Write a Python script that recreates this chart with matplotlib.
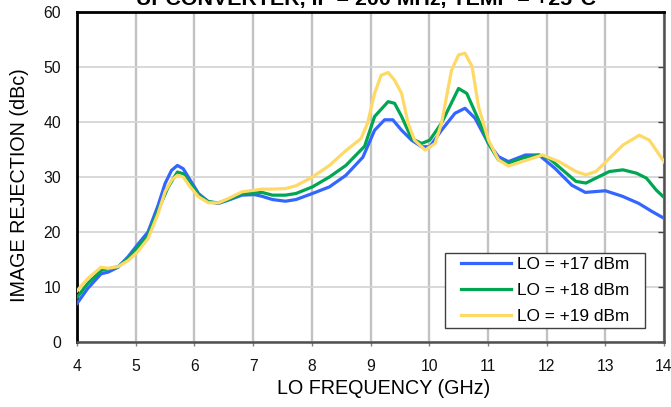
import matplotlib
matplotlib.use("Agg")
import matplotlib.pyplot as plt
from matplotlib.patches import Rectangle

plt.rcParams['font.family'] = ['Liberation Sans', 'DejaVu Sans']

# LO frequency (GHz) and image rejection (dBc) per LO drive level
freq_17 = [4.00, 4.18, 4.41, 4.53, 4.70, 4.87, 5.04, 5.21, 5.38, 5.50, 5.61, 5.71, 5.81, 5.93,
           6.07, 6.24, 6.41, 6.58, 6.81, 7.02, 7.15, 7.33, 7.55, 7.73, 8.01, 8.30, 8.58, 8.87,
           9.07, 9.24, 9.38, 9.53, 9.70, 9.87, 10.01, 10.21, 10.44, 10.61, 10.78, 11.01, 11.18,
           11.35, 11.64, 11.87, 12.14, 12.43, 12.66, 13.00, 13.29, 13.57, 13.80, 14.00]
rej_17 = [7.0, 9.7, 12.4, 12.7, 13.6, 15.5, 17.8, 20.0, 24.8, 28.8, 31.2, 32.1, 31.5, 29.4,
          27.0, 25.5, 25.2, 25.8, 26.7, 26.8, 26.5, 25.9, 25.6, 25.9, 27.0, 28.2, 30.3, 33.6,
          38.5, 40.4, 40.4, 38.5, 36.7, 35.5, 35.5, 38.5, 41.6, 42.5, 40.7, 36.1, 33.7,
          32.8, 34.0, 34.0, 31.6, 28.5, 27.2, 27.5, 26.5, 25.2, 23.7, 22.5]

freq_18 = [4.00, 4.18, 4.41, 4.53, 4.70, 4.87, 5.04, 5.21, 5.38, 5.55, 5.71, 5.81, 5.93,
           6.07, 6.24, 6.41, 6.58, 6.81, 7.02, 7.15, 7.33, 7.55, 7.73, 8.01, 8.30, 8.58, 8.90,
           9.07, 9.30, 9.41, 9.53, 9.70, 9.87, 10.01, 10.21, 10.50, 10.64, 10.84, 11.01, 11.18,
           11.35, 11.58, 11.87, 12.04, 12.27, 12.50, 12.67, 12.84, 13.07, 13.30, 13.53, 13.70,
           13.87, 14.00]
rej_18 = [8.1, 10.6, 13.0, 13.3, 13.7, 15.2, 17.3, 19.4, 23.9, 28.1, 30.9, 30.6, 28.8,
          26.7, 25.5, 25.3, 25.9, 27.0, 27.1, 27.2, 26.7, 26.7, 27.0, 28.2, 30.0, 32.1, 35.6,
          41.0, 43.7, 43.4, 41.0, 37.0, 36.1, 36.7, 39.8, 46.1, 45.2, 40.4, 36.1, 33.1,
          32.5, 33.4, 34.0, 33.4, 31.3, 29.2, 28.9, 29.8, 31.0, 31.3, 30.7, 29.8,
          27.6, 26.3]

freq_19 = [4.00, 4.18, 4.41, 4.53, 4.70, 4.87, 5.04, 5.21, 5.38, 5.50, 5.61, 5.71, 5.81, 5.93,
           6.07, 6.24, 6.41, 6.58, 6.81, 7.02, 7.15, 7.33, 7.55, 7.73, 8.01, 8.30, 8.58, 8.84,
           8.95, 9.07, 9.18, 9.30, 9.41, 9.53, 9.64, 9.75, 9.93, 10.10, 10.21, 10.38, 10.50,
           10.61, 10.73, 10.84, 11.01, 11.18, 11.35, 11.58, 11.93, 12.21, 12.50, 12.67, 12.84,
           13.07, 13.30, 13.58, 13.75, 14.00]
rej_19 = [9.3, 11.5, 13.6, 13.4, 13.7, 14.8, 16.5, 18.8, 23.3, 27.3, 29.4, 30.3, 30.0, 28.2,
          26.4, 25.3, 25.3, 26.1, 27.3, 27.6, 27.8, 27.8, 27.9, 28.4, 30.0, 32.1, 34.8, 37.0,
          39.8, 45.2, 48.5, 49.0, 47.6, 45.2, 39.8, 36.7, 34.9, 36.1, 39.8, 49.4, 52.2,
          52.5, 50.1, 42.8, 36.7, 33.1, 32.0, 32.8, 34.0, 32.8, 31.0, 30.4, 31.0,
          33.4, 35.8, 37.6, 36.7, 32.8]

series_labels = ['LO = +17 dBm', 'LO = +18 dBm', 'LO = +19 dBm']
series_colors = ['#3366ff', '#00a651', '#ffd966']
x_ticks = [4, 5, 6, 7, 8, 9, 10, 11, 12, 13, 14]
y_ticks = [0, 10, 20, 30, 40, 50, 60]

fig = plt.figure(figsize=(6.71, 4.07), dpi=100)
ax = fig.add_axes([77 / 671, 1 - 342 / 407, 587 / 671, 330 / 407])

for fx, ry, lab, col in zip([freq_17, freq_18, freq_19], [rej_17, rej_18, rej_19],
                            series_labels, series_colors):
    ax.plot(fx, ry, color=col, lw=2.3, label=lab, solid_joinstyle='round', zorder=3)

ax.set_xlim(4, 14)
ax.set_ylim(0, 60)
ax.set_xticks(x_ticks)
ax.set_yticks(y_ticks)
ax.tick_params(axis='x', labelsize=11.3, labelcolor='#111111', color='#808080',
               length=3, width=1, pad=9)
ax.tick_params(axis='y', labelsize=11.3, labelcolor='#111111', left=False, right=True,
               direction='in', color='#404040', length=4, width=1, pad=11.5)

ax.xaxis.grid(True, color='#c2c2c2', lw=1.7)
ax.yaxis.grid(True, color='#d6d6d6', lw=1.3)
ax.set_axisbelow(True)

for side in ['left', 'top']:
    ax.spines[side].set_color('#000000')
    ax.spines[side].set_linewidth(2)
for side in ['right', 'bottom']:
    ax.spines[side].set_color('#505050')
    ax.spines[side].set_linewidth(1.8)

ax.set_xlabel('LO FREQUENCY (GHz)', fontsize=14.2)
ax.set_ylabel('IMAGE REJECTION (dBc)', fontsize=14.2)
ax.xaxis.set_label_coords(0.523, -0.112)
ax.yaxis.set_label_coords(-0.081, 0.476)

fig.text(0.5455, 0.9877, 'UPCONVERTER, IF = 200 MHz, TEMP = +25°C', ha='center',
         va='baseline', fontsize=15.4, fontweight='bold')

# legend entries without frame, then a square box with wide side margins
leg = ax.legend(loc='center', bbox_to_anchor=(0.7975, 0.156), fontsize=12.4,
                frameon=False, handlelength=2.9, borderpad=0.0, labelspacing=0.62,
                handletextpad=0.3)
leg.set_zorder(5)
fig.canvas.draw()
bb = leg.get_window_extent().transformed(ax.transAxes.inverted())
px_x = 1 / 587
px_y = 1 / 330
box = Rectangle((bb.x0 - 16 * px_x, bb.y0 - 4 * px_y), bb.width + 32 * px_x,
                bb.height + 8 * px_y, transform=ax.transAxes, facecolor='white',
                edgecolor='#404040', lw=1.0, zorder=4)
ax.add_patch(box)

fig.savefig('out.png', dpi=100)
